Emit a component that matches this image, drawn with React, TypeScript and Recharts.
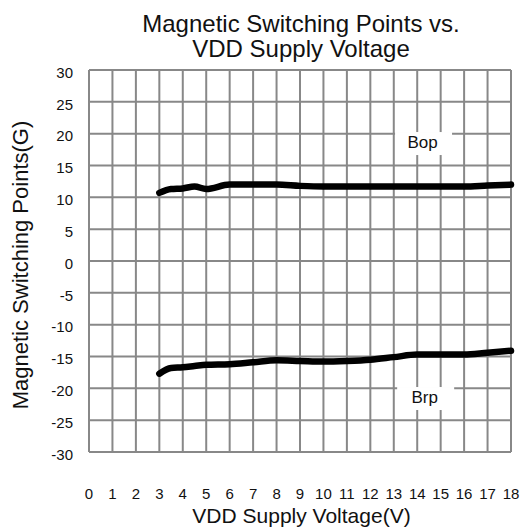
import { LineChart, Line, XAxis, YAxis, CartesianGrid, ReferenceDot } from 'recharts'

// supply voltage (V) where the curves were sampled
const voltage = [3, 3.5, 4, 4.5, 5, 6, 7, 8, 9, 10, 11, 12, 13, 14, 15, 16, 17, 18]
// operate point (G)
const bop = [10.7, 11.3, 11.4, 11.7, 11.3, 12.0, 12.0, 12.0, 11.8, 11.7, 11.7, 11.7, 11.7, 11.7, 11.7, 11.7, 11.85, 12.0]
// release point (G)
const brp = [-17.7, -16.8, -16.7, -16.5, -16.3, -16.2, -15.9, -15.6, -15.7, -15.8, -15.7, -15.5, -15.1, -14.7, -14.7, -14.7, -14.4, -14.1]

const xTicks = [0, 1, 2, 3, 4, 5, 6, 7, 8, 9, 10, 11, 12, 13, 14, 15, 16, 17, 18]
const yTicks = [-30, -25, -20, -15, -10, -5, 0, 5, 10, 15, 20, 25, 30]

const FONT = '"Liberation Sans", Arial, sans-serif'

const data = voltage.map((v, i) => ({ v, bop: bop[i], brp: brp[i] }))

const XTick = (props: any) => (
      <text x={props.x} y={props.y + 47} textAnchor="middle" fontSize={15} fontFamily={FONT} fill="#111">
            {props.payload.value}
      </text>
)

const YTick = (props: any) => (
      <text x={props.x} y={props.y + 7.7} textAnchor="end" fontSize={15} fontFamily={FONT} fill="#111">
            {props.payload.value}
      </text>
)

const labelBox = (text: string) => (props: any) => (
      <g>
            <rect x={props.cx - 28.5} y={props.cy - 11.5} width={57} height={23} fill="#fff" />
            <text x={props.cx - 1} y={props.cy + 4} textAnchor="middle" fontSize={17} fontFamily={FONT} fill="#111">
                  {text}
            </text>
      </g>
)

export default function App() {
      return (
            <div style={{ position: 'absolute', left: 0, top: 0, width: 523, height: 531, background: '#fff' }}>
                  <LineChart width={523} height={531} data={data} margin={{ top: 70, right: 12, bottom: 0, left: 0 }}>
                        <CartesianGrid stroke="#888" strokeWidth={2} />
                        <XAxis
                              dataKey="v"
                              type="number"
                              domain={[0, 18]}
                              ticks={xTicks}
                              interval={0}
                              height={79}
                              axisLine={false}
                              tickLine={false}
                              tickSize={0}
                              tickMargin={0}
                              tick={XTick}
                        />
                        <YAxis
                              type="number"
                              domain={[-30, 30]}
                              ticks={yTicks}
                              interval={0}
                              width={89}
                              axisLine={false}
                              tickLine={false}
                              tickSize={0}
                              tickMargin={16}
                              tick={YTick}
                        />
                        <ReferenceDot x={14.27} y={18.45} r={0} shape={labelBox('Bop')} ifOverflow="visible" />
                        <ReferenceDot x={14.36} y={-21.6} r={0} shape={labelBox('Brp')} ifOverflow="visible" />
                        <Line dataKey="bop" type="monotone" stroke="#000" strokeWidth={6.5} strokeLinecap="round" dot={false} isAnimationActive={false} />
                        <Line dataKey="brp" type="monotone" stroke="#000" strokeWidth={6.5} strokeLinecap="round" dot={false} isAnimationActive={false} />
                  </LineChart>
                  <svg width={523} height={531} style={{ position: 'absolute', left: 0, top: 0, pointerEvents: 'none' }}>
                        <text x={301} y={31.5} textAnchor="middle" fontSize={24} fontFamily={FONT} fill="#111">
                              Magnetic Switching Points vs.
                        </text>
                        <text x={301} y={57.3} textAnchor="middle" fontSize={24} fontFamily={FONT} fill="#111">
                              VDD Supply Voltage
                        </text>
                        <text x={301.5} y={523} textAnchor="middle" fontSize={21} fontFamily={FONT} fill="#111">
                              VDD Supply Voltage(V)
                        </text>
                        <text x={28} y={265} textAnchor="middle" fontSize={22} fontFamily={FONT} fill="#111" transform="rotate(-90 28 265)">
                              Magnetic Switching Points(G)
                        </text>
                  </svg>
            </div>
      )
}
